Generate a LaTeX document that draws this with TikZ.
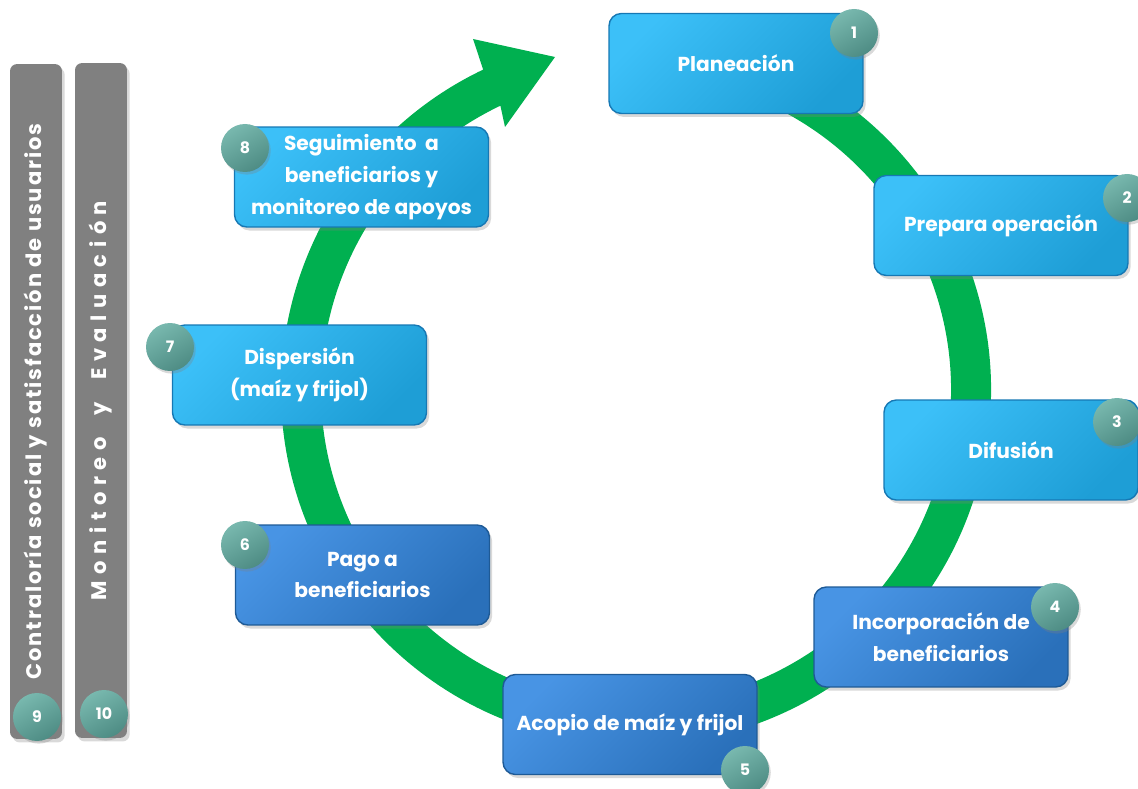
\documentclass[tikz,border=0pt]{standalone}
\usepackage{fontspec}
\setmainfont{Poppins}
\usetikzlibrary{shadows}

\definecolor{ringgreen}{RGB}{0,176,80}
\definecolor{skyA}{RGB}{60,192,248}
\definecolor{skyB}{RGB}{30,158,214}
\definecolor{skyline}{RGB}{22,120,180}
\definecolor{royalA}{RGB}{72,148,228}
\definecolor{royalB}{RGB}{42,112,186}
\definecolor{royalline}{RGB}{30,90,150}
\definecolor{tealA}{RGB}{120,184,174}
\definecolor{tealB}{RGB}{78,140,132}
\definecolor{bargray}{RGB}{128,128,128}

\tikzset{
  stage/.style={rounded corners=7pt, minimum width=5.08cm, minimum height=2cm,
    align=center, text=white, line width=0.8pt,
    font=\bfseries\fontsize{11.5}{18}\selectfont,
    drop shadow={opacity=0.3, shadow xshift=1.5pt, shadow yshift=-2pt}},
  light/.style={stage, draw=skyline, top color=skyA, bottom color=skyB, shading angle=45},
  dark/.style={stage, draw=royalline, top color=royalA, bottom color=royalB, shading angle=45},
  badge/.style={circle, minimum size=0.96cm, inner sep=0pt, text=white,
    top color=tealA, bottom color=tealB, shading angle=30,
    font=\bfseries\fontsize{9}{9}\selectfont,
    drop shadow={opacity=0.3, shadow xshift=1pt, shadow yshift=-1.5pt}},
  sidebar/.style={rotate=90, rounded corners=4pt, fill=bargray,
    minimum width=13.5cm, minimum height=1.04cm, text=white,
    drop shadow={opacity=0.3, shadow xshift=1.5pt, shadow yshift=-2pt}}
}

\begin{document}
\begin{tikzpicture}[x=0.02cm, y=0.02cm]
\useasboundingbox (0,0) rectangle (1138,788);

% green cycle arrow
\begin{scope}[shift={(636,398)}]
\fill[ringgreen] (80:355) arc[start angle=80, end angle=-244.5, radius=355]
  -- (-163,351) -- (-81,333) -- (-131,263) -- (-244.5:315)
  arc[start angle=-244.5, end angle=80, radius=315] -- cycle;
\end{scope}

% stages
\node[light] (plan) at (736,724.5) {Planeación};
\node[light] (prep) at (1001,562.5) {Prepara operación};
\node[light] (difu) at (1011,338) {Difusión};
\node[dark] (inco) at (941,151) {Incorporación de\\beneficiarios};
\node[dark] (acop) at (630,63.5) {Acopio de maíz y frijol};
\node[dark] (pago) at (362.5,213) {Pago a\\beneficiarios};
\node[light] (disp) at (299.5,413) {Dispersión\\(maíz y frijol)};
\node[light] (segu) at (361.5,611) {Seguimiento~~a\\beneficiarios y\\monitoreo de apoyos};

% side bars
\node[sidebar, font=\bfseries\fontsize{12}{12}\selectfont\addfontfeature{LetterSpace=9}] (contra) at (36,386.5)
  {Contraloría\ social\ y\ satisfacción\ de\ usuarios};
\node[sidebar, font=\bfseries\fontsize{12}{12}\selectfont\addfontfeature{LetterSpace=31}] (moni) at (101,387.5)
  {Monitoreo\ \ y\ \ Evaluación};

% numbers
\node[badge] (n1) at (854,755) {1};
\node[badge] (n2) at (1127,590) {2};
\node[badge] (n3) at (1117,366) {3};
\node[badge] (n4) at (1055,181) {4};
\node[badge] (n5) at (745,18) {5};
\node[badge] (n6) at (245,243) {6};
\node[badge] (n7) at (170,441) {7};
\node[badge] (n8) at (245,640) {8};
\node[badge] (n9) at (37,71) {9};
\node[badge] (n10) at (104,74) {10};
\end{tikzpicture}
\end{document}
